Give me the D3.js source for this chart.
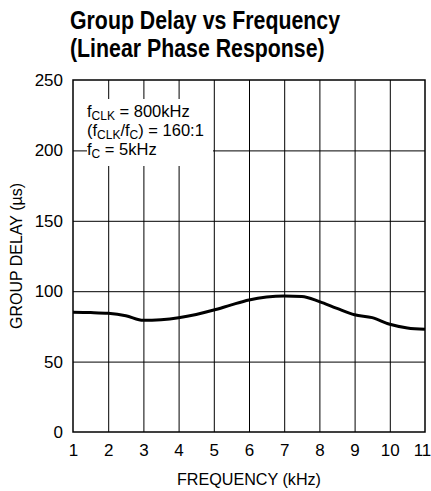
<!DOCTYPE html>
<html>
<head>
<meta charset="utf-8">
<script src="https://cdn.jsdelivr.net/npm/d3@7"></script>
<style>
  html, body { margin: 0; padding: 0; background: #fff; }
  svg { display: block; }
  .t { font-family: "Liberation Sans", Arial, sans-serif; fill: #000; }
</style>
</head>
<body>
<svg id="chart" width="431" height="491"></svg>
<script>
const freqKHz = [1, 1.5, 2, 2.5, 3, 3.5, 4, 4.5, 5, 5.5, 6, 6.5, 7, 7.5, 8, 8.5, 9, 9.5, 10, 10.5, 11];
const delayUs = [85.0, 84.8, 84.3, 82.6, 79.3, 79.8, 81.2, 83.5, 86.6, 90.3, 93.7, 95.8, 96.6, 96.3, 92.6, 87.8, 83.3, 81.2, 76.5, 73.9, 72.9];
const xTicks = [1, 2, 3, 4, 5, 6, 7, 8, 9, 10, 11];
const yTicks = [0, 50, 100, 150, 200, 250];
const titleLines = ["Group Delay vs Frequency", "(Linear Phase Response)"];

const svg = d3.select("#chart");
const m = { left: 73, right: 425, top: 80, bottom: 432 };
const x = d3.scaleLinear().domain([1, 11]).range([m.left, m.right]);
const y = d3.scaleLinear().domain([0, 250]).range([m.bottom, m.top]);

// title (condensed look)
svg.append("g").attr("transform", "translate(70,0) scale(0.82,1)")
  .selectAll("text").data(titleLines).join("text")
  .attr("class", "t")
  .attr("x", 0).attr("y", (d, i) => 29 + i * 28)
  .attr("font-size", 26).attr("font-weight", "bold")
  .text(d => d);

// gridlines
svg.append("g").attr("transform", `translate(0,${m.bottom})`)
  .call(d3.axisBottom(x).tickValues(xTicks.slice(1, -1)).tickSize(-(m.bottom - m.top)).tickFormat(""))
  .call(g => g.select(".domain").remove())
  .call(g => g.selectAll("line").attr("stroke", "#000").attr("stroke-width", 1));
svg.append("g").attr("transform", `translate(${m.left},0)`)
  .call(d3.axisLeft(y).tickValues(yTicks.slice(1, -1)).tickSize(-(m.right - m.left)).tickFormat(""))
  .call(g => g.select(".domain").remove())
  .call(g => g.selectAll("line").attr("stroke", "#000").attr("stroke-width", 1));

// legend box
svg.append("rect").attr("x", 87).attr("y", 99).attr("width", 126).attr("height", 67).attr("fill", "#fff");
const leg = svg.append("g").attr("class", "t").attr("font-size", 16.5);
const sub = 12;
const l1 = leg.append("text").attr("x", 87).attr("y", 117);
l1.append("tspan").text("f");
l1.append("tspan").attr("font-size", sub).attr("dy", 2.5).text("CLK");
l1.append("tspan").attr("dy", -2.5).text(" = 800kHz");
const l2 = leg.append("text").attr("x", 87).attr("y", 136);
l2.append("tspan").text("(f");
l2.append("tspan").attr("font-size", sub).attr("dy", 2.5).text("CLK");
l2.append("tspan").attr("dy", -2.5).text("/f");
l2.append("tspan").attr("font-size", sub).attr("dy", 2.5).text("C");
l2.append("tspan").attr("dy", -2.5).text(") = 160:1");
const l3 = leg.append("text").attr("x", 87).attr("y", 155);
l3.append("tspan").text("f");
l3.append("tspan").attr("font-size", sub).attr("dy", 2.5).text("C");
l3.append("tspan").attr("dy", -2.5).text(" = 5kHz");

// frame
svg.append("rect").attr("x", m.left).attr("y", m.top)
  .attr("width", m.right - m.left).attr("height", m.bottom - m.top)
  .attr("fill", "none").attr("stroke", "#000").attr("stroke-width", 1.5);

// tick labels
svg.append("g").attr("transform", `translate(0,${m.bottom})`)
  .call(d3.axisBottom(x).tickValues(xTicks).tickSize(0).tickPadding(12).tickFormat(d3.format("d")))
  .call(g => g.select(".domain").remove())
  .call(g => g.selectAll("text").attr("class", "t").attr("font-size", 17).attr("fill", "#000")
    .attr("dx", d => d === 11 ? -3 : 0));
svg.append("g").attr("transform", `translate(${m.left},0)`)
  .call(d3.axisLeft(y).tickValues(yTicks).tickSize(0).tickPadding(10).tickFormat(d3.format("d")))
  .call(g => g.select(".domain").remove())
  .call(g => g.selectAll("text").attr("class", "t").attr("font-size", 17).attr("fill", "#000"));

// axis titles
svg.append("text").attr("class", "t").attr("font-size", 17)
  .attr("x", (m.left + m.right) / 2).attr("y", 485).attr("text-anchor", "middle")
  .attr("textLength", 144).attr("lengthAdjust", "spacingAndGlyphs")
  .text("FREQUENCY (kHz)");
svg.append("text").attr("class", "t").attr("font-size", 16)
  .attr("transform", `translate(22,${(m.top + m.bottom) / 2}) rotate(-90)`)
  .attr("text-anchor", "middle")
  .text("GROUP DELAY (µs)");

// curve
const line = d3.line().x((d, i) => x(freqKHz[i])).y(d => y(d)).curve(d3.curveMonotoneX);
svg.append("path").datum(delayUs).attr("d", line)
  .attr("fill", "none").attr("stroke", "#000").attr("stroke-width", 3);
</script>
</body>
</html>
